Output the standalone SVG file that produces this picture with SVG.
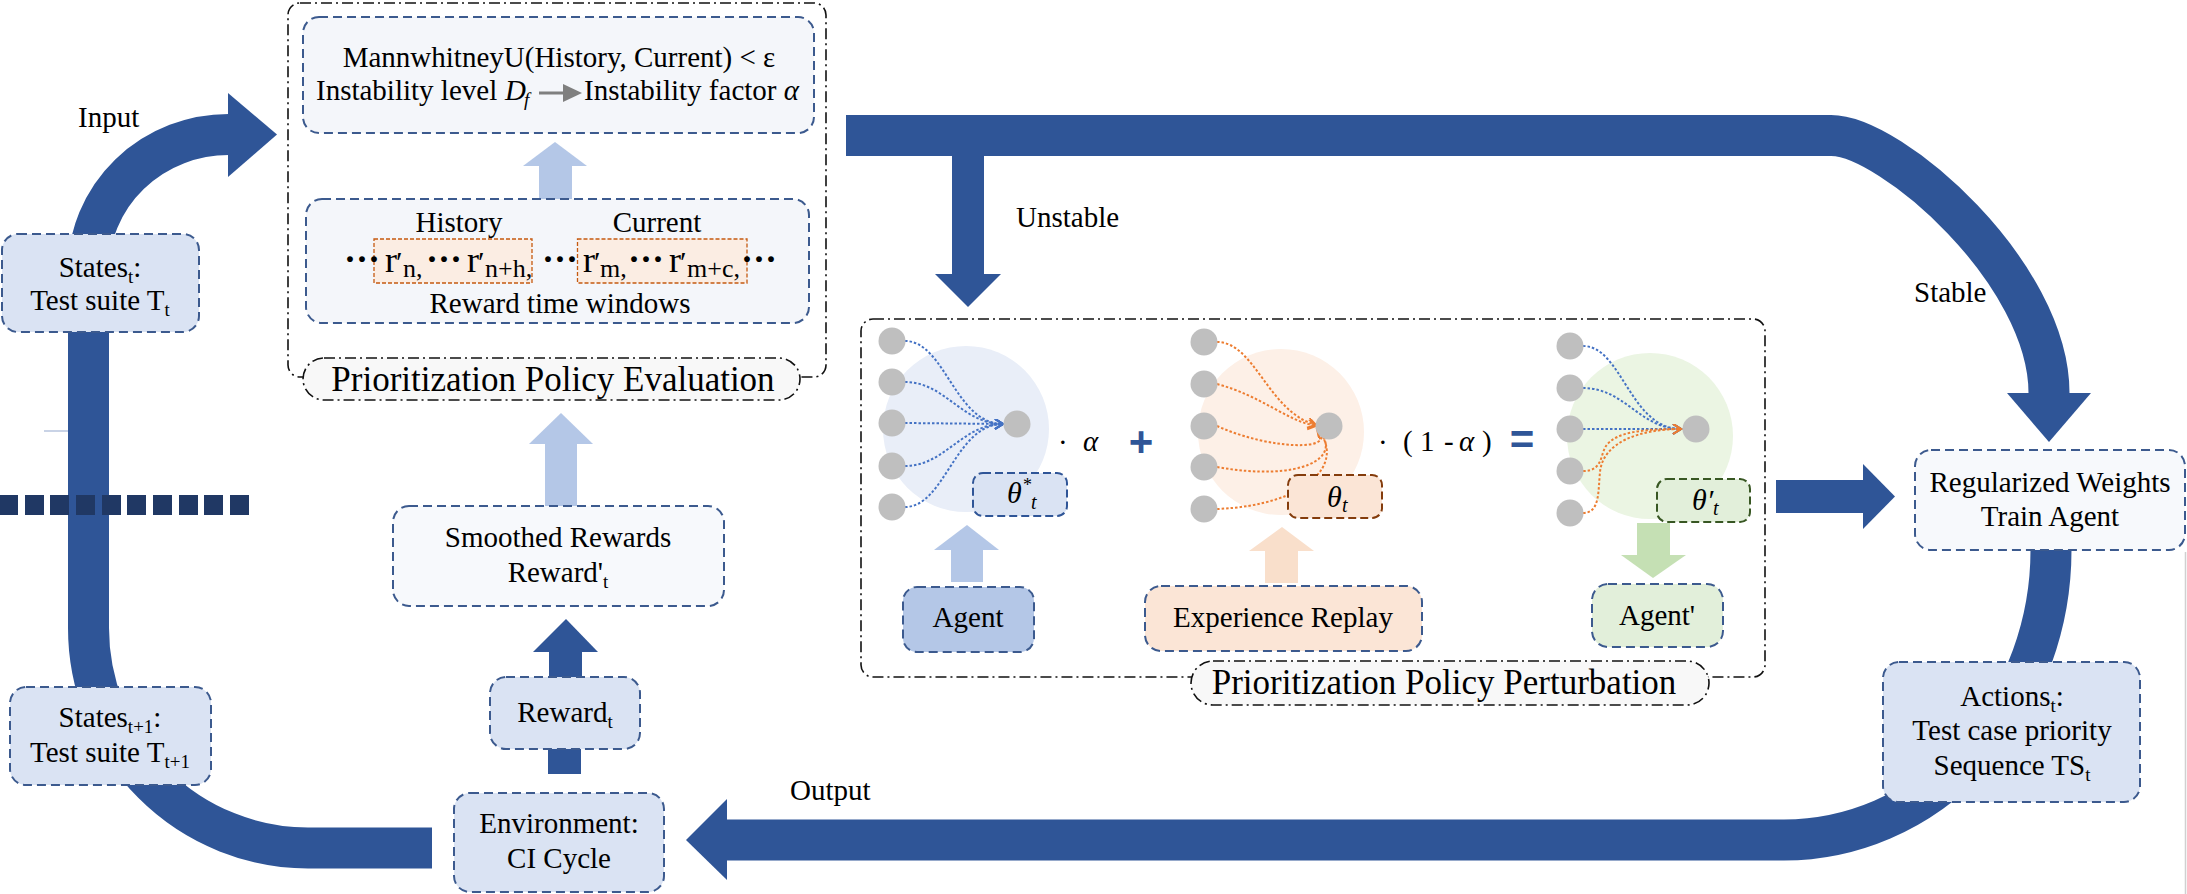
<svg xmlns="http://www.w3.org/2000/svg" width="2187" height="894" viewBox="0 0 2187 894">
<style>
.band{fill:none;stroke:#2F5597;stroke-width:41;stroke-linecap:butt}
.head{fill:#2F5597}
.box{stroke:#3C5A8E;stroke-width:2;stroke-dasharray:9 5}
.dd{fill:none;stroke:#111;stroke-width:1.6;stroke-dasharray:11 4 2 4}
.pill{fill:#F8F8F8;stroke:#111;stroke-width:1.6;stroke-dasharray:11 4 2 4}
.t{font-family:"Liberation Serif","Times New Roman",serif;font-size:29px;fill:#000}
.c{text-anchor:middle}
.sub{font-size:19px}
.it{font-style:italic}
.f35{font-size:35px}
.f36{font-size:36px}
.f30{font-size:30px}
.f26{font-size:26px}
.f20{font-size:20px}
.f18{font-size:18px}
.node{fill:#BFBFBF}
.bl{fill:none;stroke:#4472C4;stroke-width:2;stroke-dasharray:2.5 2}
.or{fill:none;stroke:#ED7D31;stroke-width:2;stroke-dasharray:2.5 2}
.win{fill:#FBEDE3;stroke:#C55A11;stroke-width:1.3;stroke-dasharray:4 2}
.dots{font-family:"Liberation Serif","Times New Roman",serif;font-size:36px;font-weight:bold;fill:#000}
.op{font-family:"Liberation Sans",Arial,sans-serif;font-size:42px;font-weight:bold;fill:#2F5597;text-anchor:middle}
</style>
<defs>
<marker id="ab" markerUnits="userSpaceOnUse" markerWidth="12" markerHeight="12" refX="9" refY="5" orient="auto"><path d="M1,0 L9,5 L1,10" fill="none" stroke="#4472C4" stroke-width="2"/></marker>
<marker id="ao" markerUnits="userSpaceOnUse" markerWidth="12" markerHeight="12" refX="9" refY="5" orient="auto"><path d="M1,0 L9,5 L1,10" fill="none" stroke="#ED7D31" stroke-width="2"/></marker>
</defs>

<g id="connectors">
  <path class="band" d="M432,848 L308,848 A220,220 0 0 1 88.5,628 L88.5,270 A140,135.5 0 0 1 228.5,134.5"/>
  <polygon class="head" points="228,93 277,134.5 228,177"/>
  <path class="band" d="M846,135.5 L1831,135.5 C1891,135.5 2049,273 2049,393"/>
  <polygon class="head" points="2007,393 2091,393 2049,442"/>
  <rect class="head" x="952" y="150" width="32" height="124"/>
  <polygon class="head" points="935,274 1001,274 968,307"/>
  <path class="band" d="M2051,540 L2051,550 A267,290 0 0 1 1784,840 L727,840"/>
  <polygon class="head" points="727,799 686,840 727,880"/>
  <rect class="head" x="1776" y="480" width="88" height="33"/>
  <polygon class="head" points="1863,464 1895,496.5 1863,529"/>
  <rect class="head" x="549" y="650" width="33" height="30"/>
  <polygon class="head" points="533,652 566,619 598,652"/>
  <rect class="head" x="548" y="745" width="33" height="29"/>
  <rect x="545" y="442" width="32" height="64" fill="#B4C7E7"/>
  <polygon points="529,444 561,413 593,444" fill="#B4C7E7"/>
  <rect x="539" y="164" width="33" height="35" fill="#B4C7E7"/>
  <polygon points="523,166 555,142 587,166" fill="#B4C7E7"/>
  <line x1="44" y1="431" x2="68" y2="431" stroke="#C9D3E6" stroke-width="2"/>
  <g fill="#203864">
    <rect x="0" y="495" width="18" height="20"/>
    <rect x="25" y="495" width="19" height="20"/>
    <rect x="50" y="495" width="19" height="20"/>
    <rect x="76" y="495" width="19" height="20"/>
    <rect x="102" y="495" width="19" height="20"/>
    <rect x="127" y="495" width="19" height="20"/>
    <rect x="153" y="495" width="19" height="20"/>
    <rect x="179" y="495" width="19" height="20"/>
    <rect x="204" y="495" width="19" height="20"/>
    <rect x="230" y="495" width="19" height="20"/>
  </g>
  <line x1="2185.5" y1="552" x2="2185.5" y2="894" stroke="#D0D0D0" stroke-width="1.5"/>
  <text class="t" x="78" y="127">Input</text>
  <text class="t" x="1016" y="227">Unstable</text>
  <text class="t" x="1914" y="302">Stable</text>
  <text class="t" x="790" y="800">Output</text>
</g>

<g id="states-t">
  <rect class="box" x="2" y="234" width="197" height="98" rx="16" fill="#DAE3F3"/>
  <text class="t c" x="100" y="277">States<tspan class="sub" dy="6">t</tspan><tspan dy="-6">:</tspan></text>
  <text class="t c" x="100" y="310">Test suite T<tspan class="sub" dy="6">t</tspan></text>
</g>

<g id="states-t1">
  <rect class="box" x="10" y="687" width="201" height="98" rx="16" fill="#DAE3F3"/>
  <text class="t c" x="110" y="727">States<tspan class="sub" dy="6">t+1</tspan><tspan dy="-6">:</tspan></text>
  <text class="t c" x="110" y="762">Test suite T<tspan class="sub" dy="6">t+1</tspan></text>
</g>

<g id="environment">
  <rect class="box" x="454" y="793" width="210" height="99" rx="16" fill="#DAE3F3"/>
  <text class="t c" x="559" y="833">Environment:</text>
  <text class="t c" x="559" y="868">CI Cycle</text>
</g>

<g id="reward">
  <rect class="box" x="490" y="677" width="150" height="72" rx="16" fill="#DAE3F3"/>
  <text class="t c" x="565" y="722">Reward<tspan class="sub" dy="6">t</tspan></text>
</g>

<g id="smoothed">
  <rect class="box" x="393" y="506" width="331" height="100" rx="16" fill="#F7F9FC"/>
  <text class="t c" x="558" y="547">Smoothed Rewards</text>
  <text class="t c" x="558" y="582">Reward'<tspan class="sub" dy="6">t</tspan></text>
</g>

<g id="evaluation">
  <rect class="dd" x="288" y="3" width="538" height="374" rx="12"/>
  <rect class="box" x="303" y="17" width="511" height="116" rx="16" fill="#F4F6FA"/>
  <text class="t c" x="559" y="67">MannwhitneyU(History, Current) &lt; ε</text>
  <text class="t" x="316" y="100">Instability level <tspan class="it" x="505">D</tspan><tspan class="it sub" x="524" dy="6">f</tspan></text>
  <line x1="539" y1="93" x2="566" y2="93" stroke="#7F7F7F" stroke-width="3"/>
  <polygon points="563,84 582,93 563,102" fill="#7F7F7F"/>
  <text class="t" x="584" y="100">Instability factor <tspan class="it">α</tspan></text>
  <rect class="box" x="306" y="199" width="503" height="124" rx="16" fill="#F4F6FA"/>
  <text class="t c" x="459" y="232">History</text>
  <text class="t c" x="657" y="232">Current</text>
  <rect class="win" x="374" y="239" width="158" height="44"/>
  <rect class="win" x="577.5" y="239" width="169.5" height="44"/>
  <text class="dots" x="344" y="271">···</text>
  <text class="t f36" x="385" y="272">r</text><text class="t f30" x="396" y="272">′</text><text class="t f26" x="403" y="277">n,</text>
  <text class="dots" x="426" y="271">···</text>
  <text class="t f36" x="467" y="272">r</text><text class="t f30" x="478" y="272">′</text><text class="t f26" x="485" y="277">n+h,</text>
  <text class="dots" x="542" y="271">···</text>
  <text class="t f36" x="583" y="272">r</text><text class="t f30" x="594" y="272">′</text><text class="t f26" x="600" y="277">m,</text>
  <text class="dots" x="628" y="271">···</text>
  <text class="t f36" x="669" y="272">r</text><text class="t f30" x="680" y="272">′</text><text class="t f26" x="687" y="277">m+c,</text>
  <text class="dots" x="741" y="271">···</text>
  <text class="t c" x="560" y="313">Reward time windows</text>
  <rect class="pill" x="303" y="358" width="497" height="42" rx="21"/>
  <text class="t c f35" x="553" y="391">Prioritization Policy Evaluation</text>
</g>

<g id="perturbation">
  <rect class="dd" x="861" y="319" width="904" height="358" rx="12"/>
  <rect class="pill" x="1191" y="661" width="518" height="44" rx="22"/>
  <text class="t c f35" x="1444" y="694">Prioritization Policy Perturbation</text>
</g>

<g id="agent-net">
  <circle cx="966" cy="429" r="83" fill="#E9EEF8"/>
  <path class="bl" marker-end="url(#ab)" d="M905,341 C945,341 955,424 1003,424"/>
  <path class="bl" marker-end="url(#ab)" d="M905,382 C945,382 962,424 1003,424"/>
  <path class="bl" marker-end="url(#ab)" d="M905,423 L1003,424"/>
  <path class="bl" marker-end="url(#ab)" d="M905,466 C945,466 962,424 1003,424"/>
  <path class="bl" marker-end="url(#ab)" d="M905,507 C945,507 955,424 1003,424"/>
  <circle class="node" cx="892" cy="341" r="13.5"/>
  <circle class="node" cx="892" cy="382" r="13.5"/>
  <circle class="node" cx="892" cy="423" r="13.5"/>
  <circle class="node" cx="892" cy="466" r="13.5"/>
  <circle class="node" cx="892" cy="507" r="13.5"/>
  <circle class="node" cx="1017" cy="424" r="13.5"/>
  <rect x="973" y="473" width="94" height="43" rx="10" fill="#DAE3F3" stroke="#2F5597" stroke-width="2" stroke-dasharray="8 4"/>
  <text class="t it f30" x="1007" y="503">θ</text>
  <text class="t f18" x="1023" y="491">*</text>
  <text class="t it f20" x="1031" y="509">t</text>
  <text class="t" x="1058" y="452">·</text>
  <text class="t it" x="1083" y="451">α</text>
  <text class="op" x="1141" y="456">+</text>
</g>

<g id="agent">
  <rect x="951" y="548" width="32" height="34" fill="#B4C7E7"/>
  <polygon points="934,550 967,525 999,550" fill="#B4C7E7"/>
  <rect class="box" x="903" y="587" width="131" height="65" rx="14" fill="#B4C7E7"/>
  <text class="t c" x="968" y="627">Agent</text>
</g>

<g id="replay-net">
  <circle cx="1281" cy="432" r="83" fill="#FDF0E7"/>
  <path class="or" marker-end="url(#ao)" d="M1217,342 C1255,342 1268,412 1316,425"/>
  <path class="or" marker-end="url(#ao)" d="M1217,384 C1262,396 1285,420 1316,426"/>
  <path class="or" marker-end="url(#ao)" d="M1217,426 C1270,450 1340,452 1317,429"/>
  <path class="or" marker-end="url(#ao)" d="M1217,467 C1300,482 1345,458 1318,430"/>
  <path class="or" marker-end="url(#ao)" d="M1217,509 C1310,505 1345,462 1318,430"/>
  <circle class="node" cx="1204" cy="342" r="13.5"/>
  <circle class="node" cx="1204" cy="384" r="13.5"/>
  <circle class="node" cx="1204" cy="426" r="13.5"/>
  <circle class="node" cx="1204" cy="467" r="13.5"/>
  <circle class="node" cx="1204" cy="509" r="13.5"/>
  <circle class="node" cx="1329" cy="426" r="13.5"/>
  <rect x="1288" y="475" width="94" height="43" rx="10" fill="#FBE5D6" stroke="#843C0C" stroke-width="2" stroke-dasharray="8 4"/>
  <text class="t it f30" x="1327" y="507">θ</text>
  <text class="t it f20" x="1342" y="512">t</text>
  <text class="t" x="1378" y="452">·</text>
  <text class="t" x="1403" y="451">(</text>
  <text class="t" x="1420" y="451">1</text>
  <text class="t" x="1444" y="451">-</text>
  <text class="t it" x="1459" y="451">α</text>
  <text class="t" x="1482" y="451">)</text>
  <text class="op" x="1522" y="454">=</text>
</g>

<g id="experience-replay">
  <rect x="1265" y="549" width="33" height="34" fill="#F9DFCB"/>
  <polygon points="1249,551 1282,527 1314,551" fill="#F9DFCB"/>
  <rect class="box" x="1145" y="586" width="277" height="65" rx="16" fill="#FBE5D6"/>
  <text class="t c" x="1283" y="627">Experience Replay</text>
</g>

<g id="agent-prime-net">
  <circle cx="1650" cy="436" r="83" fill="#EBF5E3"/>
  <path class="bl" marker-end="url(#ab)" d="M1583,346 C1622,346 1630,429 1681,429"/>
  <path class="bl" marker-end="url(#ab)" d="M1583,388 C1625,388 1640,429 1681,429"/>
  <path class="bl" marker-end="url(#ab)" d="M1583,429 L1681,429"/>
  <path class="or" marker-end="url(#ao)" d="M1583,471 C1603,471 1600,455 1606,446 C1616,432 1642,429 1681,429"/>
  <path class="or" marker-end="url(#ao)" d="M1583,513 C1600,513 1598,492 1600,472 C1603,442 1640,429 1681,429"/>
  <circle class="node" cx="1570" cy="346" r="13.5"/>
  <circle class="node" cx="1570" cy="388" r="13.5"/>
  <circle class="node" cx="1570" cy="429" r="13.5"/>
  <circle class="node" cx="1570" cy="471" r="13.5"/>
  <circle class="node" cx="1570" cy="513" r="13.5"/>
  <circle class="node" cx="1696" cy="429" r="13.5"/>
  <rect x="1657" y="479" width="93" height="43" rx="10" fill="#E2EFDA" stroke="#385723" stroke-width="2" stroke-dasharray="8 4"/>
  <text class="t it f30" x="1692" y="510">θ′</text>
  <text class="t it f20" x="1713" y="515">t</text>
</g>

<g id="agent-prime">
  <rect x="1637" y="523" width="33" height="33" fill="#C5E0B4"/>
  <polygon points="1621,555 1686,555 1653,578" fill="#C5E0B4"/>
  <rect class="box" x="1592" y="584" width="131" height="63" rx="16" fill="#E2EFDA"/>
  <text class="t c" x="1657" y="625">Agent'</text>
</g>

<g id="regularized">
  <rect class="box" x="1915" y="450" width="270" height="100" rx="16" fill="#F7F9FC"/>
  <text class="t c" x="2050" y="492">Regularized Weights</text>
  <text class="t c" x="2050" y="526">Train Agent</text>
</g>

<g id="actions">
  <rect class="box" x="1883" y="662" width="257" height="140" rx="16" fill="#DAE3F3"/>
  <text class="t c" x="2012" y="706">Actions<tspan class="sub" dy="6">t</tspan><tspan dy="-6">:</tspan></text>
  <text class="t c" x="2012" y="740">Test case priority</text>
  <text class="t c" x="2012" y="775">Sequence TS<tspan class="sub" dy="6">t</tspan></text>
</g>
</svg>
